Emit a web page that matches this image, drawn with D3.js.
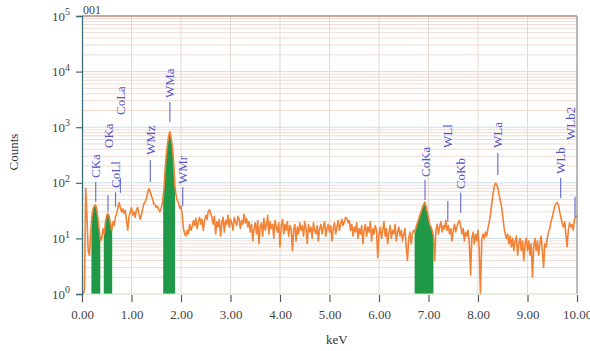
<!DOCTYPE html>
<html>
<head>
<meta charset="utf-8">
<script src="https://cdn.jsdelivr.net/npm/d3@7"></script>
<style>
body { margin: 0; background: #fff; }
text { font-family: "Liberation Serif", "Times New Roman", Times, serif; }
</style>
</head>
<body>
<div id="chart"></div>
<script>
// Spectrum: counts per channel, channel 0 = 0 keV, one channel every 0.025 keV
const STEP_KEV = 0.025;
const counts = [
    1, 1, 1.2, 80, 25, 6, 5, 12, 25, 35, 38, 40, 33, 22, 14, 9, 10, 15, 12, 20,
    26, 28, 25, 18, 14, 20, 17, 24, 28, 35, 44, 36, 30, 34, 28, 32, 20, 14, 25, 30,
    36, 26, 30, 24, 33, 36, 28, 22, 26, 34, 42, 45, 52, 65, 78, 70, 58, 52, 42, 40,
    36, 38, 33, 30, 35, 44, 68, 150, 300, 480, 700, 830, 650, 450, 250, 90, 60, 48, 44, 35,
    38, 26, 15, 12, 11, 14, 12, 18, 14, 16, 21, 17, 23, 15, 19, 24, 18, 22, 14, 20,
    26, 22, 30, 33, 28, 24, 18, 25, 12, 20, 16, 22, 11, 19, 24, 13, 21, 18, 26, 16,
    22, 19, 14, 24, 20, 17, 25, 22, 15, 21, 18, 27, 19, 23, 16, 20, 13, 18, 9, 15,
    19, 12, 21, 8, 16, 19, 11, 23, 14, 17, 26, 12, 20, 15, 18, 10, 21, 16, 13, 19,
    7, 17, 22, 12, 18, 14, 20, 11, 17, 15, 6, 14, 18, 9, 16, 12, 19, 14, 17, 11,
    20, 15, 8, 18, 13, 16, 10, 19, 14, 12, 17, 9, 15, 18, 12, 16, 20, 11, 15, 18,
    13, 17, 9, 15, 19, 12, 16, 21, 14, 18, 22, 17, 20, 24, 23, 19, 21, 14, 18, 11,
    16, 13, 19, 10, 15, 12, 17, 8, 14, 18, 11, 16, 13, 20, 9, 15, 12, 17, 14, 4.5,
    12, 16, 10, 14, 20, 11, 15, 8, 13, 17, 10, 14, 12, 18, 9, 13, 16, 11, 14, 9,
    12, 15, 7, 4, 10, 13, 8, 12, 14, 13, 16, 19, 22, 26, 30, 36, 40, 45, 38, 30,
    24, 18, 16, 14, 11, 4, 14, 18, 12, 16, 20, 13, 17, 15, 21, 14, 17, 12, 15, 9,
    14, 18, 13, 16, 19, 21, 17, 12, 15, 9, 13, 11, 14, 8, 2.2, 10, 13, 8, 12, 9,
    14, 6, 1, 9, 12, 10, 13, 11, 15, 19, 26, 40, 60, 82, 98, 95, 80, 62, 48, 38,
    25, 16, 12, 10, 12, 8, 11, 7, 10, 6, 9, 11, 5, 8, 10, 6, 9, 4, 8, 10,
    6, 9, 5, 8, 2, 7, 10, 6, 9, 5, 8, 11, 6, 3, 8, 7, 10, 13, 15, 20,
    24, 30, 38, 42, 44, 40, 30, 24, 19, 16, 20, 12, 7, 14, 19, 16, 18, 14, 22, 24,
    26
];

// Regions of interest (filled green)
const roiStart = [0.19, 0.44, 1.64, 6.72];
const roiEnd = [0.37, 0.61, 1.88, 7.10];

// Peak markers: line spans markerBottom..markerTop counts, label starts at markerLabel counts
const markerNames = ['CKa', 'OKa', 'CoLl', 'CoLa', 'WMz', 'WMa', 'WMr', 'CoKa', 'WLl', 'CoKb', 'WLa', 'WLb', 'WLb2'];
const markerKeV = [0.277, 0.525, 0.678, 0.776, 1.38, 1.775, 2.035, 6.93, 7.39, 7.65, 8.40, 9.67, 9.96];
const markerBottom = [45, 30, 37, 66, 103, 1241, 38, 49, 20, 29, 138, 53, 24];
const markerTop = [103, 60, 68, 122, 257, 2840, 84, 112, 47, 66, 344, 122, 56];
const markerLabel = [122, 423, 81, 1657, 316, 3350, 95, 127, 423, 77, 423, 144, 589];

const xTicks = [0, 1, 2, 3, 4, 5, 6, 7, 8, 9, 10];
const yTicks = [1, 10, 100, 1000, 10000, 100000];
const spectrumTitle = '001';

const width = 590, height = 351;
const plot = { left: 82, right: 577, top: 16, bottom: 294 };
const serif = '"Liberation Serif", "Times New Roman", Times, serif';

const svg = d3.select('#chart')
    .append('svg')
    .attr('width', width)
    .attr('height', height);

const x = d3.scaleLinear().domain([0, 10]).range([plot.left, plot.right]);
const y = d3.scaleLog().domain([1, 100000]).range([plot.bottom, plot.top]);

// grid
const minorVals = [];
yTicks.slice(0, -1).forEach(d => {
    for (let k = 2; k <= 9; k++) minorVals.push(d * k);
});
svg.append('g').selectAll('line')
    .data(minorVals)
    .join('line')
    .attr('x1', plot.left).attr('x2', plot.right)
    .attr('y1', d => y(d)).attr('y2', d => y(d))
    .attr('stroke', '#efdcd2').attr('stroke-width', 1);
svg.append('g').selectAll('line')
    .data(yTicks.slice(1, -1))
    .join('line')
    .attr('x1', plot.left).attr('x2', plot.right)
    .attr('y1', d => y(d)).attr('y2', d => y(d))
    .attr('stroke', '#c9dfec').attr('stroke-width', 1);
svg.append('g').selectAll('line')
    .data(xTicks.slice(1, -1))
    .join('line')
    .attr('x1', d => x(d)).attr('x2', d => x(d))
    .attr('y1', plot.top).attr('y2', plot.bottom)
    .attr('stroke', '#e4d8d2').attr('stroke-width', 1);

// spectrum
const pts = counts.map((c, i) => ({ e: i * STEP_KEV, c }));

const defs = svg.append('defs');
const clip = defs.append('clipPath').attr('id', 'roi');
roiStart.forEach((s, i) => {
    clip.append('rect')
        .attr('x', x(s))
        .attr('y', plot.top)
        .attr('width', x(roiEnd[i]) - x(s))
        .attr('height', plot.bottom - plot.top);
});

svg.append('path')
    .datum(pts)
    .attr('clip-path', 'url(#roi)')
    .attr('fill', '#1f9848')
    .attr('d', d3.area()
        .x(d => x(d.e))
        .y0(y(1))
        .y1(d => y(d.c)));

svg.append('path')
    .datum(pts)
    .attr('fill', 'none')
    .attr('stroke', '#f28236')
    .attr('stroke-width', 1.6)
    .attr('stroke-linejoin', 'round')
    .attr('d', d3.line()
        .x(d => x(d.e))
        .y(d => y(d.c)));

// borders
svg.append('line')
    .attr('x1', plot.left).attr('x2', plot.right)
    .attr('y1', plot.top).attr('y2', plot.top)
    .attr('stroke', '#b58a7c').attr('stroke-width', 1.5);
svg.append('line')
    .attr('x1', plot.right).attr('x2', plot.right)
    .attr('y1', plot.top).attr('y2', plot.bottom)
    .attr('stroke', '#8c8c8c').attr('stroke-width', 1.2);
svg.append('line')
    .attr('x1', plot.left).attr('x2', plot.right)
    .attr('y1', plot.bottom).attr('y2', plot.bottom)
    .attr('stroke', '#c6e0b4').attr('stroke-width', 1);

// x axis
const xAxis = svg.append('g')
    .attr('transform', 'translate(0,' + (plot.bottom + 1) + ')')
    .call(d3.axisBottom(x)
        .tickValues(xTicks)
        .tickFormat(d3.format('.2f'))
        .tickSize(7)
        .tickPadding(8));
xAxis.select('.domain').remove();
xAxis.selectAll('.tick line').attr('stroke', '#555').attr('stroke-width', 1.2);
xAxis.selectAll('.tick text')
    .attr('fill', '#444')
    .style('font-size', '13px')
    .style('font-family', serif);

// y axis
const yAxis = svg.append('g')
    .attr('transform', 'translate(' + plot.left + ',0)')
    .call(d3.axisLeft(y)
        .tickValues(yTicks)
        .tickSize(6)
        .tickPadding(6));
yAxis.select('.domain').attr('stroke', '#3d6f76').attr('stroke-width', 1.3);
yAxis.selectAll('.tick line').attr('stroke', '#3d6f76').attr('stroke-width', 1.2);
yAxis.selectAll('.tick text')
    .attr('fill', '#444')
    .style('font-size', '13px')
    .style('font-family', serif)
    .each(function (d) {
        const t = d3.select(this);
        t.text(null);
        t.append('tspan').text('10');
        t.append('tspan')
            .attr('dy', '-0.55em')
            .style('font-size', '10px')
            .text(Math.round(Math.log10(d)));
    });

// markers
const markers = markerNames.map((name, i) => ({
    name, e: markerKeV[i], lo: markerBottom[i], hi: markerTop[i], lab: markerLabel[i]
}));
svg.append('g').selectAll('line')
    .data(markers)
    .join('line')
    .attr('x1', d => x(d.e)).attr('x2', d => x(d.e))
    .attr('y1', d => y(d.lo)).attr('y2', d => y(d.hi))
    .attr('stroke', '#6a74d0').attr('stroke-width', 1.2);
svg.append('g').selectAll('text')
    .data(markers)
    .join('text')
    .attr('transform', d => 'translate(' + Math.min(x(d.e), plot.right - 7) + ',' + y(d.lab) + ') rotate(-90)')
    .attr('dy', '0.35em')
    .attr('fill', '#5556c6')
    .style('font-size', '13px')
    .text(d => d.name);

// titles
svg.append('text')
    .attr('x', plot.left + 1)
    .attr('y', 14)
    .attr('fill', '#444')
    .style('font-size', '12px')
    .text(spectrumTitle);
svg.append('text')
    .attr('transform', 'translate(18,' + 152 + ') rotate(-90)')
    .attr('text-anchor', 'middle')
    .attr('fill', '#333')
    .style('font-size', '13px')
    .text('Counts');
svg.append('text')
    .attr('x', x(5.15))
    .attr('y', 344)
    .attr('text-anchor', 'middle')
    .attr('fill', '#333')
    .style('font-size', '13px')
    .text('keV');
</script>
</body>
</html>
